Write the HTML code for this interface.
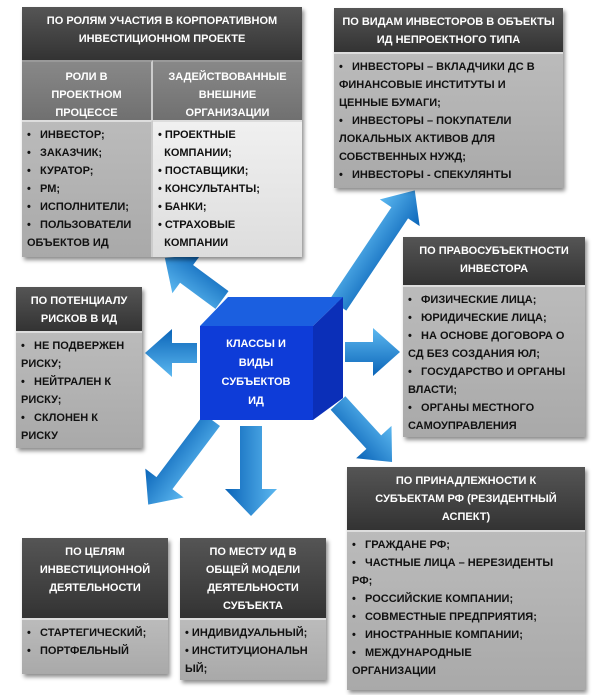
<!DOCTYPE html>
<html><head><meta charset="utf-8"><style>
body{margin:0;width:600px;height:695px;background:#fff;position:relative;overflow:hidden;font-family:"Liberation Sans",sans-serif;font-weight:bold;font-size:11px;}
.b{position:absolute;box-shadow:2px 3px 4px rgba(0,0,0,.45);}
.h{background:linear-gradient(#555,#333);color:#fff;text-align:center;line-height:18px;box-sizing:border-box;padding-top:5px;}
.c{background:linear-gradient(#bbb,#a9a9a9);color:#111;line-height:18px;box-sizing:border-box;padding:4px 5px;border-top:2px solid #ddd;white-space:nowrap;}
.l{background:linear-gradient(#f0f0f0,#ddd);}
.m{background:linear-gradient(#888,#707070);color:#fff;text-align:center;line-height:18px;box-sizing:border-box;padding-top:6px;border-top:2px solid #999;}
</style></head><body>
<svg width="600" height="695" style="position:absolute;left:0;top:0">
<defs><linearGradient id="g" x1="0" y1="0" x2="0" y2="1"><stop offset="0" stop-color="#5cb8f0"/><stop offset="1" stop-color="#0a64b8"/></linearGradient>
<linearGradient id="g2" x1="0" y1="0" x2="1" y2="0"><stop offset="0" stop-color="#5cb8f0"/><stop offset="1" stop-color="#0a64b8"/></linearGradient></defs>
<g fill="url(#g)">
<g transform="translate(222,300) rotate(216.4)"><polygon points="0,-11 44,-11 44,-24 71,0 44,24 44,11 0,11"/></g>
<g transform="translate(338,305) rotate(-56.2)"><polygon points="0,-10 111,-10 111,-24 138,0 111,24 111,10 0,10"/></g>
<g transform="translate(345,352)"><polygon points="0,-10 28,-10 28,-24 55,0 28,24 28,10 0,10"/></g>
<g transform="translate(197,353) rotate(180)"><polygon points="0,-10 25,-10 25,-24 52,0 25,24 25,10 0,10"/></g>
<g transform="translate(212,420) rotate(127)"><polygon points="0,-10 79,-10 79,-24 106,0 79,24 79,10 0,10"/></g>
<g transform="translate(251,426) rotate(90)"><polygon points="0,-11 63,-11 63,-26 90,0 63,26 63,11 0,11"/></g>
<g transform="translate(338,403) rotate(47.5)"><polygon points="0,-10 53,-10 53,-24 80,0 53,24 53,10 0,10"/></g>
</g>
<polygon points="200,326 228,297 343,297 313,326" fill="#1b5fe0"/>
<polygon points="313,326 343,297 343,398 313,420" fill="#0b2fb8"/>
<rect x="200" y="326" width="113" height="94" fill="#0e3cd8"/>
<text fill="#fff" font-family="Liberation Sans" font-weight="bold" font-size="11" text-anchor="middle"><tspan x="256" y="347">КЛАССЫ И</tspan><tspan x="256" y="366">ВИДЫ</tspan><tspan x="256" y="385">СУБЪЕКТОВ</tspan><tspan x="256" y="404">ИД</tspan></text>
</svg>

<div class="b" style="left:22px;top:7px;width:280px;height:250px">
<div class="h" style="height:53px">ПО РОЛЯМ УЧАСТИЯ В КОРПОРАТИВНОМ<br>ИНВЕСТИЦИОННОМ ПРОЕКТЕ</div>
<div style="display:flex;height:60px"><div class="m" style="width:131px;border-right:2px solid #ccc">РОЛИ В<br>ПРОЕКТНОМ<br>ПРОЦЕССЕ</div><div class="m" style="flex:1">ЗАДЕЙСТВОВАННЫЕ<br>ВНЕШНИЕ<br>ОРГАНИЗАЦИИ</div></div>
<div style="display:flex;height:137px"><div class="c" style="width:131px;border-right:2px solid #ccc">•&nbsp;&nbsp;&nbsp;ИНВЕСТОР;<br>•&nbsp;&nbsp;&nbsp;ЗАКАЗЧИК;<br>•&nbsp;&nbsp;&nbsp;КУРАТОР;<br>•&nbsp;&nbsp;&nbsp;РМ;<br>•&nbsp;&nbsp;&nbsp;ИСПОЛНИТЕЛИ;<br>•&nbsp;&nbsp;&nbsp;ПОЛЬЗОВАТЕЛИ<br>ОБЪЕКТОВ ИД</div><div class="c l" style="flex:1">• ПРОЕКТНЫЕ<br>&nbsp;&nbsp;КОМПАНИИ;<br>• ПОСТАВЩИКИ;<br>• КОНСУЛЬТАНТЫ;<br>• БАНКИ;<br>• СТРАХОВЫЕ<br>&nbsp;&nbsp;КОМПАНИИ</div></div>
</div>

<div class="b" style="left:334px;top:8px;width:229px;height:180px">
<div class="h" style="height:44px">ПО ВИДАМ ИНВЕСТОРОВ В ОБЪЕКТЫ<br>ИД НЕПРОЕКТНОГО ТИПА</div>
<div class="c" style="height:136px">•&nbsp;&nbsp;&nbsp;ИНВЕСТОРЫ – ВКЛАДЧИКИ ДС В<br>ФИНАНСОВЫЕ ИНСТИТУТЫ И<br>ЦЕННЫЕ БУМАГИ;<br>•&nbsp;&nbsp;&nbsp;ИНВЕСТОРЫ – ПОКУПАТЕЛИ<br>ЛОКАЛЬНЫХ АКТИВОВ ДЛЯ<br>СОБСТВЕННЫХ НУЖД;<br>•&nbsp;&nbsp;&nbsp;ИНВЕСТОРЫ - СПЕКУЛЯНТЫ</div>
</div>

<div class="b" style="left:403px;top:237px;width:182px;height:200px">
<div class="h" style="height:48px">ПО ПРАВОСУБЪЕКТНОСТИ<br>ИНВЕСТОРА</div>
<div class="c" style="height:152px">•&nbsp;&nbsp;&nbsp;ФИЗИЧЕСКИЕ ЛИЦА;<br>•&nbsp;&nbsp;&nbsp;ЮРИДИЧЕСКИЕ ЛИЦА;<br>•&nbsp;&nbsp;&nbsp;НА ОСНОВЕ ДОГОВОРА О<br>СД БЕЗ СОЗДАНИЯ ЮЛ;<br>•&nbsp;&nbsp;&nbsp;ГОСУДАРСТВО И ОРГАНЫ<br>ВЛАСТИ;<br>•&nbsp;&nbsp;&nbsp;ОРГАНЫ МЕСТНОГО<br>САМОУПРАВЛЕНИЯ</div>
</div>

<div class="b" style="left:16px;top:287px;width:126px;height:161px">
<div class="h" style="height:44px">ПО ПОТЕНЦИАЛУ<br>РИСКОВ В ИД</div>
<div class="c" style="height:117px">•&nbsp;&nbsp;&nbsp;НЕ ПОДВЕРЖЕН<br>РИСКУ;<br>•&nbsp;&nbsp;&nbsp;НЕЙТРАЛЕН К<br>РИСКУ;<br>•&nbsp;&nbsp;&nbsp;СКЛОНЕН К<br>РИСКУ</div>
</div>

<div class="b" style="left:347px;top:467px;width:238px;height:223px">
<div class="h" style="height:63px">ПО ПРИНАДЛЕЖНОСТИ К<br>СУБЪЕКТАМ РФ (РЕЗИДЕНТНЫЙ<br>АСПЕКТ)</div>
<div class="c" style="height:160px">•&nbsp;&nbsp;&nbsp;ГРАЖДАНЕ РФ;<br>•&nbsp;&nbsp;&nbsp;ЧАСТНЫЕ ЛИЦА – НЕРЕЗИДЕНТЫ<br>РФ;<br>•&nbsp;&nbsp;&nbsp;РОССИЙСКИЕ КОМПАНИИ;<br>•&nbsp;&nbsp;&nbsp;СОВМЕСТНЫЕ ПРЕДПРИЯТИЯ;<br>•&nbsp;&nbsp;&nbsp;ИНОСТРАННЫЕ КОМПАНИИ;<br>•&nbsp;&nbsp;&nbsp;МЕЖДУНАРОДНЫЕ<br>ОРГАНИЗАЦИИ</div>
</div>

<div class="b" style="left:22px;top:538px;width:146px;height:136px">
<div class="h" style="height:80px">ПО ЦЕЛЯМ<br>ИНВЕСТИЦИОННОЙ<br>ДЕЯТЕЛЬНОСТИ</div>
<div class="c" style="height:56px">•&nbsp;&nbsp;&nbsp;СТАРТЕГИЧЕСКИЙ;<br>•&nbsp;&nbsp;&nbsp;ПОРТФЕЛЬНЫЙ</div>
</div>

<div class="b" style="left:180px;top:538px;width:146px;height:142px">
<div class="h" style="height:80px">ПО МЕСТУ ИД В<br>ОБЩЕЙ МОДЕЛИ<br>ДЕЯТЕЛЬНОСТИ<br>СУБЪЕКТА</div>
<div class="c" style="height:62px">• ИНДИВИДУАЛЬНЫЙ;<br>• ИНСТИТУЦИОНАЛЬН<br>ЫЙ;</div>
</div>
</body></html>
